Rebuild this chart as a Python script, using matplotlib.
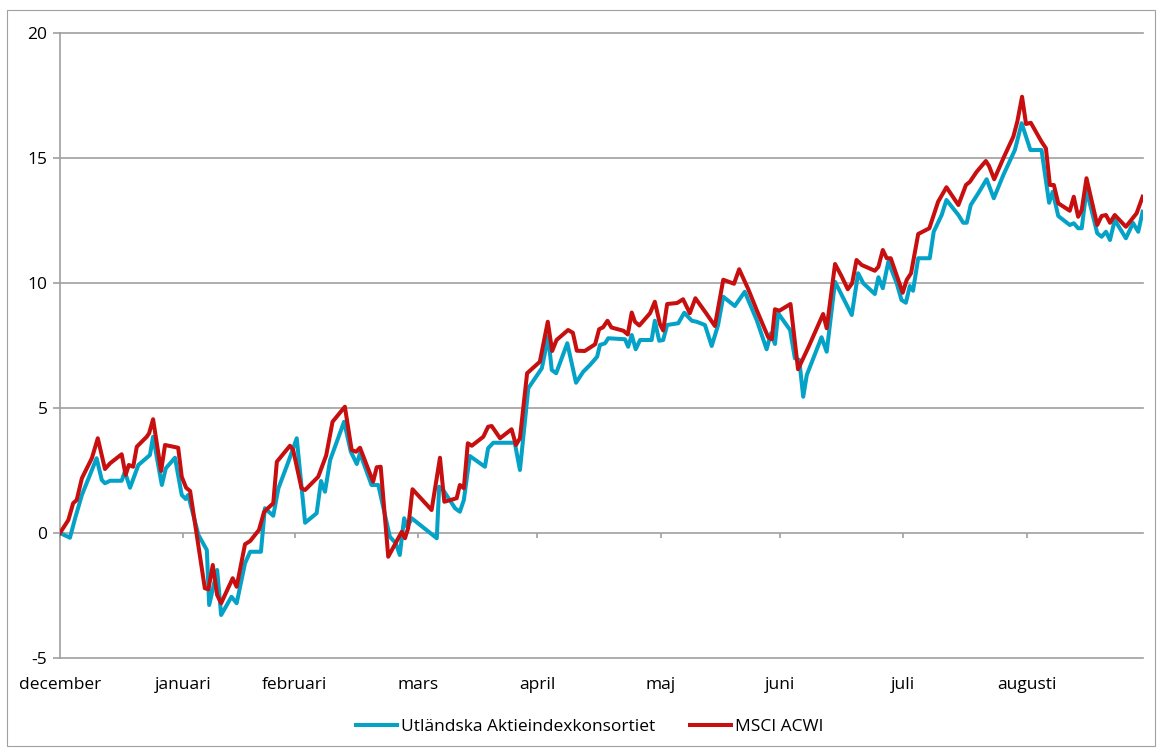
import matplotlib
matplotlib.use("Agg")
import matplotlib.pyplot as plt
from matplotlib.patches import Rectangle
from matplotlib.lines import Line2D

plt.rcParams["font.family"] = ["Open Sans", "DejaVu Sans"]

# Cumulative return (%) per calendar day counted from the first month tick
fund_days = [0, 2.5, 3.8, 5.5, 7.5, 9.2, 10.5, 11.3, 12.6, 15.5, 16.3, 17.6, 19.7, 22.6,
             23.4, 25.6, 26.6, 28.9, 30.6, 31.6, 32.2, 34.8, 36.9, 37.5, 39.5, 40.5, 43.1,
             44.4, 46.5, 47.8, 50.5, 51.5, 53.6, 54.9, 57.4, 59.5, 61.6, 64.5, 65.6, 66.6,
             67.9, 71.4, 73.1, 74.6, 75.4, 78.3, 80.0, 82.9, 84.4, 85.4, 86.5, 87.3, 88.4,
             94.7, 95.3, 96.3, 99.3, 100.5, 101.5, 103.0, 106.8, 107.6, 108.9, 114.3, 115.6,
             117.7, 121.1, 122.7, 123.6, 124.7, 127.5, 129.7, 131.5, 133.2, 135.0, 135.7,
             137.0, 137.8, 142.0, 142.8, 143.7, 144.7, 145.8, 148.7, 149.5, 150.6, 151.6,
             152.6, 155.4, 156.9, 158.8, 160.0, 162.1, 163.8, 165.4, 166.7, 169.6, 172.1,
             175.1, 177.6, 178.7, 179.7, 180.5, 183.5, 184.7, 185.8, 186.8, 187.7, 191.4,
             192.7, 194.8, 199.0, 200.6, 201.9, 204.8, 205.7, 206.8, 208.2, 210.3, 211.5,
             212.6, 213.6, 214.4, 215.7, 218.6, 219.6, 221.6, 222.8, 225.8, 227.0, 227.9,
             228.9, 230.8, 232.9, 234.7, 237.1, 240.0, 241.7, 243.9, 246.7, 248.6, 249.5,
             250.9, 253.8, 254.8, 255.9, 256.8, 258.0, 260.7, 261.8, 262.9, 263.9, 265.1,
             267.9, 269.7, 271.0, 272.1]
fund_values = [0.0, -0.19, 0.59, 1.52, 2.32, 2.99, 2.12, 1.99, 2.09, 2.09, 2.45, 1.81, 2.72,
               3.12, 3.85, 1.92, 2.59, 3.01, 1.52, 1.36, 1.52, -0.08, -0.68, -2.88, -1.48,
               -3.28, -2.55, -2.81, -1.21, -0.75, -0.75, 0.99, 0.69, 1.79, 2.85, 3.79, 0.41,
               0.79, 2.08, 1.65, 2.92, 4.45, 3.25, 2.76, 3.19, 1.92, 1.92, -0.15, -0.41,
               -0.88, 0.59, 0.23, 0.59, -0.21, 1.85, 1.72, 0.99, 0.85, 1.32, 3.08, 2.65,
               3.39, 3.61, 3.61, 2.52, 5.79, 6.59, 7.85, 6.52, 6.39, 7.59, 6.01, 6.45, 6.72,
               7.05, 7.52, 7.59, 7.79, 7.75, 7.45, 7.92, 7.35, 7.72, 7.72, 8.49, 7.69, 7.72,
               8.32, 8.39, 8.81, 8.49, 8.45, 8.32, 7.48, 8.32, 9.45, 9.08, 9.65, 8.52, 7.35,
               7.99, 7.56, 8.79, 8.12, 6.99, 6.92, 5.45, 6.32, 7.83, 7.25, 10.05, 8.72,
               10.39, 9.99, 9.56, 10.23, 9.79, 10.85, 9.99, 9.32, 9.21, 9.88, 9.69, 10.99,
               10.99, 12.05, 12.72, 13.32, 12.72, 12.41, 12.41, 13.12, 13.59, 14.15, 13.39,
               14.32, 15.32, 16.39, 15.32, 15.32, 13.21, 13.65, 12.68, 12.32, 12.39, 12.19,
               12.19, 13.72, 11.99, 11.85, 12.05, 11.72, 12.52, 11.79, 12.4, 12.05, 12.85]

msci_days = [0, 2.1, 3.3, 4.2, 5.5, 8.0, 9.5, 11.3, 12.6, 15.5, 16.5, 17.3, 18.4, 19.3,
             21.8, 22.4, 23.4, 25.4, 26.4, 29.7, 30.6, 31.7, 32.7, 36.4, 37.3, 38.4, 39.5,
             40.5, 43.4, 44.4, 46.5, 47.8, 50.0, 51.3, 53.6, 54.5, 57.8, 58.6, 60.7, 61.6,
             64.9, 66.9, 68.5, 71.6, 73.3, 74.4, 75.4, 78.7, 79.6, 80.6, 82.5, 85.9, 86.7,
             87.5, 88.6, 93.4, 95.5, 96.6, 99.7, 100.5, 101.5, 102.5, 103.5, 106.4, 107.6,
             108.5, 110.6, 113.5, 114.6, 115.6, 117.4, 120.6, 122.6, 123.7, 124.8, 127.7,
             128.9, 129.9, 131.9, 134.5, 135.5, 136.5, 137.6, 138.6, 141.6, 142.7, 143.7,
             144.5, 145.6, 148.3, 149.5, 150.8, 151.6, 152.6, 155.1, 156.6, 158.3, 159.7,
             162.4, 164.6, 166.7, 169.4, 170.7, 173.0, 175.1, 178.0, 178.9, 179.7, 180.8,
             183.6, 185.5, 188.1, 191.8, 192.7, 194.8, 196.5, 198.0, 199.1, 200.2, 201.5,
             204.8, 205.7, 206.8, 207.8, 208.8, 211.8, 212.8, 213.9, 215.7, 218.5, 220.7,
             222.8, 225.8, 227.7, 228.7, 230.4, 232.7, 233.5, 234.8, 237.1, 239.6, 240.6,
             241.8, 242.8, 244.0, 246.7, 247.8, 248.8, 249.8, 250.9, 253.8, 254.8, 255.9,
             256.8, 258.0, 260.7, 261.8, 262.9, 263.9, 265.1, 267.9, 270.6, 272.1]
msci_values = [0.0, 0.52, 1.19, 1.32, 2.19, 2.99, 3.79, 2.56, 2.79, 3.15, 2.32, 2.72, 2.65,
               3.45, 3.85, 3.99, 4.55, 2.48, 3.52, 3.41, 2.25, 1.81, 1.68, -2.21, -2.25,
               -1.28, -2.48, -2.81, -1.81, -2.15, -0.45, -0.32, 0.12, 0.85, 1.19, 2.85, 3.49,
               3.32, 1.79, 1.72, 2.25, 3.1, 4.45, 5.05, 3.32, 3.25, 3.41, 2.05, 2.63, 2.65,
               -0.95, 0.05, -0.21, 0.19, 1.75, 0.92, 3.01, 1.25, 1.39, 1.92, 1.79, 3.59,
               3.49, 3.85, 4.25, 4.28, 3.79, 4.15, 3.52, 3.79, 6.39, 6.85, 8.45, 7.28, 7.72,
               8.12, 8.01, 7.29, 7.28, 7.55, 8.15, 8.23, 8.49, 8.22, 8.09, 7.94, 8.82, 8.45,
               8.30, 8.79, 9.25, 8.35, 8.10, 9.16, 9.20, 9.35, 8.79, 9.39, 8.79, 8.28, 10.13,
               9.97, 10.55, 9.75, 8.92, 7.83, 7.75, 8.95, 8.89, 9.16, 6.55, 7.43, 8.76, 8.19,
               10.76, 10.25, 9.75, 9.99, 10.92, 10.72, 10.49, 10.65, 11.32, 10.99, 10.99,
               9.61, 10.12, 10.39, 11.96, 12.19, 13.25, 13.83, 13.12, 13.92, 14.05, 14.45,
               14.88, 14.68, 14.15, 14.99, 15.85, 16.45, 17.45, 16.36, 16.41, 15.65, 15.39,
               13.92, 13.92, 13.19, 12.89, 13.45, 12.65, 12.92, 14.19, 12.32, 12.68, 12.72,
               12.41, 12.72, 12.25, 12.79, 13.45]

month_days = [0, 31, 59, 90, 120, 151, 181, 212, 243]
month_labels = ["december", "januari", "februari", "mars", "april", "maj", "juni",
                "juli", "augusti"]
y_ticks = [-5, 0, 5, 10, 15, 20]

series_names = ["Utländska Aktieindexkonsortiet", "MSCI ACWI"]
series_colors = ["#05a2c8", "#c80f0f"]

GRID = "#a0a0a0"
W, H = 1159, 749

fig = plt.figure(figsize=(W / 100, H / 100), dpi=100)
fig.patches.append(Rectangle((7 / W, 1 - 746 / H), (1155 - 7) / W, (746 - 10) / H,
                             transform=fig.transFigure, fill=False,
                             edgecolor=GRID, linewidth=0.8))

ax = fig.add_axes([60 / W, (H - 658) / H, (1143 - 60) / W, 625 / H])
ax.set_xlim(0, 272.2)
ax.set_ylim(-5, 20)

ax.plot(fund_days, fund_values, color=series_colors[0], lw=2.9,
        solid_joinstyle="round", zorder=3)
ax.plot(msci_days, msci_values, color=series_colors[1], lw=2.9,
        solid_joinstyle="round", zorder=4)

# horizontal gridlines and axes
for y in y_ticks:
    if y != 0:
        ax.axhline(y, color=GRID, lw=1.2, zorder=1, clip_on=False)
for side in ["top", "right"]:
    ax.spines[side].set_visible(False)
ax.spines["left"].set_color(GRID)
ax.spines["left"].set_linewidth(1.2)
ax.spines["bottom"].set_position(("data", 0))
ax.spines["bottom"].set_color(GRID)
ax.spines["bottom"].set_linewidth(1.2)
ax.spines["bottom"].set_zorder(2)

ax.set_yticks(y_ticks)
ax.set_yticklabels([str(v) for v in y_ticks])
ax.tick_params(axis="y", length=5, width=1.2, color=GRID, pad=4, labelsize=12.5,
               labelcolor="black")
ax.set_xticks(month_days)
ax.tick_params(axis="x", length=3.8, width=1.2, color=GRID, direction="out",
               labelbottom=False)

for d, lab in zip(month_days, month_labels):
    ax.annotate(lab, xy=(d, -5), xytext=(0, -27), textcoords="offset pixels",
                ha="center", va="center", fontsize=12.5, color="black",
                annotation_clip=False)

handles = [Line2D([], [], color=c, lw=2.9) for c in series_colors]
fig.legend(handles, series_names, loc="center", ncol=2,
           bbox_to_anchor=(589.5 / W, 1 - 727 / H), frameon=False, fontsize=12.5,
           handlelength=2.4, handletextpad=0.2, columnspacing=2.0)

fig.savefig("out.png", dpi=100)
